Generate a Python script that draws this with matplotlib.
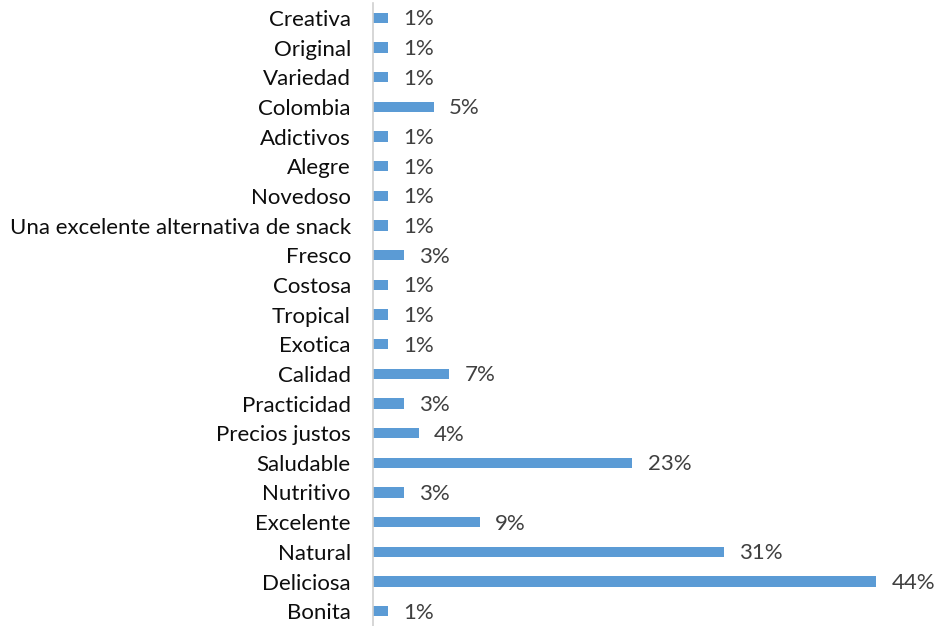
"""Horizontal bar chart of the words used to describe the product."""

import matplotlib
matplotlib.use("Agg")
import matplotlib.pyplot as plt
from matplotlib.ticker import NullLocator

# Categories listed bottom to top, as they appear on the y axis
categories = [
    "Bonita", "Deliciosa", "Natural", "Excelente", "Nutritivo", "Saludable",
    "Precios justos", "Practicidad", "Calidad", "Exotica", "Tropical",
    "Costosa", "Fresco", "Una excelente alternativa de snack", "Novedoso",
    "Alegre", "Adictivos", "Colombia", "Variedad", "Original", "Creativa",
]
# Share of mentions (percent)
shares = [
    1.33, 44.0, 30.67, 9.33, 2.67, 22.67,
    4.0, 2.67, 6.67, 1.33, 1.33,
    1.33, 2.67, 1.33, 1.33,
    1.33, 1.33, 5.33, 1.33, 1.33, 1.33,
]

BAR_COLOR = "#5B9BD5"
TEXT_GREY = "#404040"

plt.rcParams["font.family"] = ["Lato", "DejaVu Sans"]

fig = plt.figure(figsize=(9.38, 6.26), dpi=100)
ax = fig.add_axes([373 / 938, 0.0, 565 / 938, 623 / 626])

positions = range(len(categories))
values = [s / 100 for s in shares]
ax.barh(positions, values, height=0.35, color=BAR_COLOR, zorder=2)

for y, v in zip(positions, values):
    ax.annotate(f"{v:.0%}", xy=(v, y), xytext=(11, -1), textcoords="offset points",
                va="center", ha="left", fontsize=16, color=TEXT_GREY)

ax.set_xlim(0, 0.494)
ax.set_ylim(-0.5, len(categories) - 0.5)
ax.set_yticks(list(positions))
ax.set_yticklabels(categories, fontsize=16, color="#0D0D0D")
ax.tick_params(axis="y", length=0, pad=16)
ax.xaxis.set_major_locator(NullLocator())

for side in ("top", "right", "bottom"):
    ax.spines[side].set_visible(False)
ax.spines["left"].set_color("#D0D0D0")
ax.spines["left"].set_linewidth(1.2)

fig.savefig("out.png", dpi=100)
